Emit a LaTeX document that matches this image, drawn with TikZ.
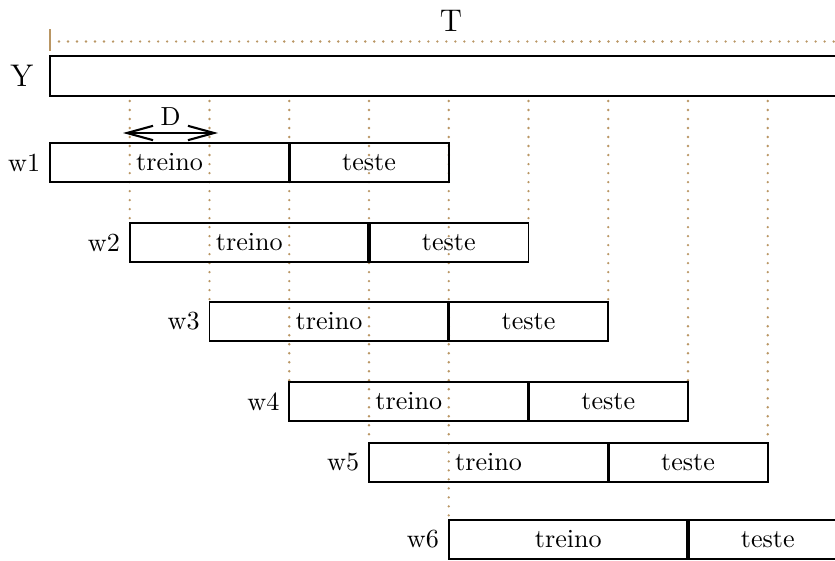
\documentclass[tikz,border=0pt]{standalone}
\usetikzlibrary{arrows.meta}
\definecolor{gridtan}{RGB}{185,150,100}
\pgfdeclarelayer{background}
\pgfsetlayers{background,main}
\begin{document}
\begin{tikzpicture}[x=0.383pt,y=-0.383pt,
  winpart/.style={draw, line width=0.6pt, inner sep=0pt, outer sep=0pt, minimum height=14.94pt},
  trainpart/.style={winpart, minimum width=91.63pt},
  testpart/.style={winpart, minimum width=61.09pt},
  divider/.style={line width=1.2pt},
  guide/.style={gridtan, line width=1pt, line cap=round, dash pattern=on 0pt off 3.45pt},
  tick/.style={gridtan, line width=0.8pt},
  winlabel/.style={anchor=east, inner sep=3.6pt},
  spanarrow/.style={line width=0.8pt,
    {Straight Barb[length=10pt,width=5.5pt]}-{Straight Barb[length=10pt,width=5.5pt]}}
]
\useasboundingbox (0,0) rectangle (835,561);
\clip (0,0) rectangle (835,561);

% full series
\node[winpart, minimum width=305.44pt, minimum height=15.32pt, anchor=north west] (series) at (50,56) {};
\node[anchor=east, font=\large, inner sep=0pt] (ylab) at ([xshift=-6.2pt]series.west) {Y};

% time axis
\coordinate (t0) at (50,41.5);
\coordinate (t1) at (850,41.5);
\draw[guide] ([xshift=3.45pt]t0) -- (t1);
\draw[tick] ([yshift=4.7pt]t0) -- ([yshift=-3.7pt]t0);
\node[font=\large] (tlab) at (451,21) {T};

% sliding windows: training part followed by test part
\foreach \i/\top in {1/143,2/223,3/302,4/382,5/443,6/520}{
  \node[trainpart, anchor=north west] (tr\i) at ({50+79.75*(\i-1)},\top) {treino};
  \node[testpart, anchor=west] (te\i) at (tr\i.east) {teste};
  \draw[divider] (tr\i.north east) -- (tr\i.south east);
  \node[winlabel] (w\i) at (tr\i.west) {w\i};
}

% dotted guides from the series down to the window edges
\begin{pgfonlayer}{background}
  \coordinate (gtop) at (0,101);
  \foreach \j in {2,...,6}
    \draw[guide] (tr\j.north west |- gtop) -- (tr\j.north west);
  \foreach \j in {2,...,5}
    \draw[guide] (te\j.north east |- gtop) -- (te\j.north east);
\end{pgfonlayer}

% step size D
\coordinate (dl) at (123,133);
\coordinate (dr) at (218,133);
\draw[spanarrow] (dl) -- (dr) node[midway, above, inner sep=2.5pt] (dlab) {D};
\end{tikzpicture}
\end{document}
